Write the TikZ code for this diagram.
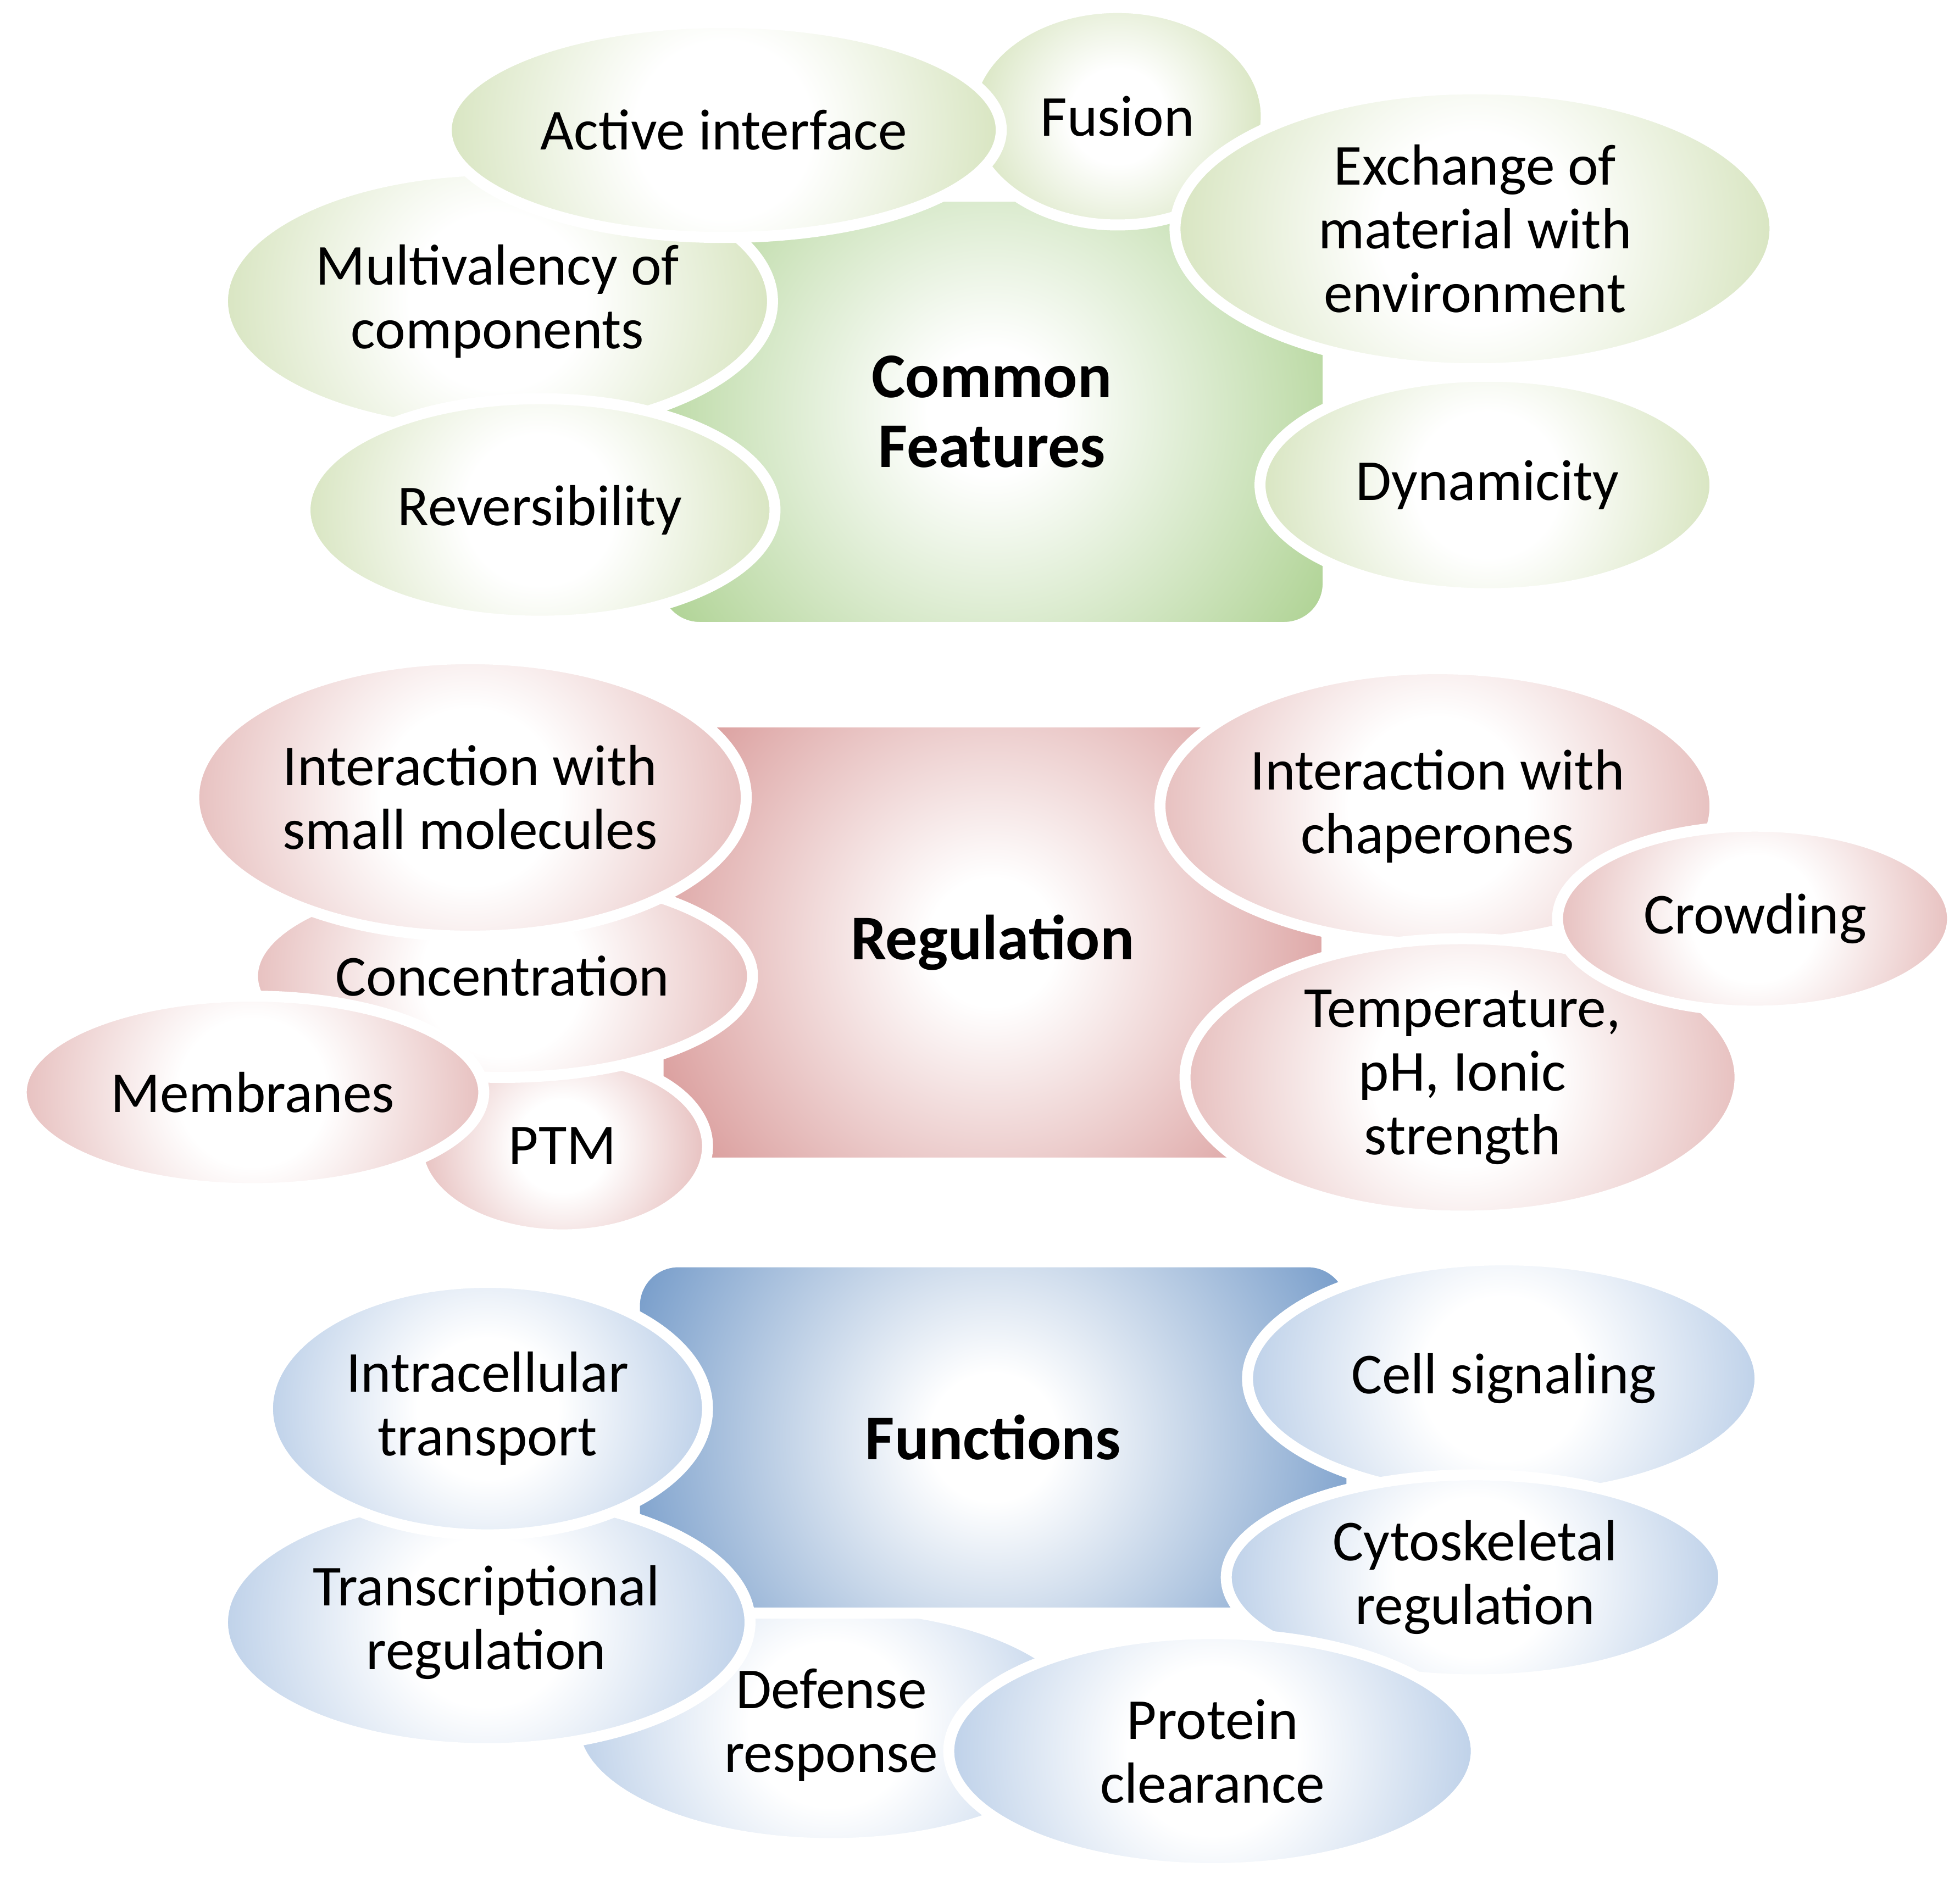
\documentclass[tikz,border=0pt]{standalone}
\usepackage{fontspec}
\setmainfont{Carlito}
\usetikzlibrary{shapes.geometric}
\definecolor{gE}{RGB}{216,229,193}
\definecolor{gR}{RGB}{172,209,144}
\definecolor{rE}{RGB}{231,192,191}
\definecolor{rR}{RGB}{214,146,145}
\definecolor{bE}{RGB}{190,209,233}
\definecolor{bR}{RGB}{114,153,200}
\pgfdeclareradialshading{shGE}{\pgfpointorigin}{color(0bp)=(white); color(8bp)=(white); color(25bp)=(gE); color(50bp)=(gE)}
\pgfdeclareradialshading{shRE}{\pgfpointorigin}{color(0bp)=(white); color(8bp)=(white); color(25bp)=(rE); color(50bp)=(rE)}
\pgfdeclareradialshading{shBE}{\pgfpointorigin}{color(0bp)=(white); color(8bp)=(white); color(25bp)=(bE); color(50bp)=(bE)}
\pgfdeclareradialshading{shGR}{\pgfpointorigin}{color(0bp)=(white); color(4bp)=(white); color(25bp)=(gR); color(50bp)=(gR)}
\pgfdeclareradialshading{shRR}{\pgfpointorigin}{color(0bp)=(white); color(4bp)=(white); color(25bp)=(rR); color(50bp)=(rR)}
\pgfdeclareradialshading{shBR}{\pgfpointorigin}{color(0bp)=(white); color(4bp)=(white); color(25bp)=(bR); color(50bp)=(bR)}
\begin{document}
\begin{tikzpicture}[x=0.022749cm, y=-0.022749cm,
  bub/.style={ellipse, draw=white, line width=0.2cm, inner sep=0pt, align=center,
              font=\fontsize{30}{33}\selectfont, text=black},
  core/.style={rectangle, rounded corners=0.8cm, draw=white, line width=0.2cm, inner sep=0pt,
              align=center, font=\fontsize{33}{36}\selectfont\bfseries, text=black},
  E/.style n args={3}{bub, minimum width={#2*0.045498cm}, minimum height={#3*0.045498cm},
     path picture={\shade[shading=#1] (path picture bounding box.center) circle[radius={#2*0.022749cm}];}},
  R/.style n args={4}{core, minimum width={#2*0.022749cm}, minimum height={#3*0.022749cm},
     path picture={\shade[shading=#1] (path picture bounding box.center) circle[radius={#4*0.022749cm}];}}]
\useasboundingbox (0,0) rectangle (1568,1512);

% ---- Common Features ----
\node[R={shGR}{538}{345}{320}] (cf) at (793.5,329.5) {Common\\Features};
\node[E={shGE}{119}{87}] (fu) at (894,93) {Fusion};
\node[E={shGE}{220}{105}] (mv) at (398,241) {Multivalency of\\components};
\node[E={shGE}{222}{86}] (ai) at (579,104) {Active interface};
\node[E={shGE}{240}{112}] (ex) at (1180,183) {Exchange of\\material with\\environment};
\node[E={shGE}{182}{87}] (dy) at (1190,388) {Dynamicity};
\node[E={shGE}{188}{89}] (rv) at (432,408) {Reversibility};

% ---- Regulation ----
\node[R={shRR}{535}{353}{320}] (rg) at (794,754) {Regulation};
\node[E={shRE}{116}{71}] (ptm) at (450,917) {PTM};
\node[E={shRE}{200}{81}] (cn) at (402,781) {Concentration};
\node[E={shRE}{185}{77}] (mb) at (202,874) {Membranes};
\node[E={shRE}{221}{111}] (sm) at (376,638) {Interaction with\\small molecules};
\node[E={shRE}{222}{110}] (ch) at (1150,645) {Interaction with\\chaperones};
\node[E={shRE}{222}{111}] (te) at (1170,862) {Temperature,\\pH, Ionic\\strength};
\node[E={shRE}{158}{74}] (cr) at (1404,735) {Crowding};

% ---- Functions ----
\node[E={shBE}{206}{95}] (df) at (665,1380) {Defense\\response};
\node[R={shBR}{574}{281}{320}] (fn) at (794.5,1150) {Functions};
\node[E={shBE}{211}{101}] (tr) at (389,1298) {Transcriptional\\regulation};
\node[E={shBE}{176}{101}] (ic) at (390,1127) {Intracellular\\transport};
\node[E={shBE}{205}{95}] (cs) at (1203,1103) {Cell signaling};
\node[E={shBE}{199}{82}] (ck) at (1180,1262) {Cytoskeletal\\regulation};
\node[E={shBE}{211}{94}] (pc) at (970,1401) {Protein\\clearance};
\end{tikzpicture}
\end{document}
